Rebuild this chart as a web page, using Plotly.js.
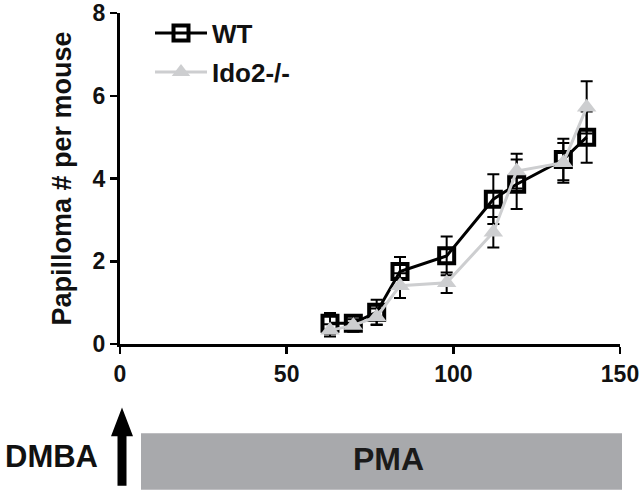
<!DOCTYPE html>
<html>
<head>
<meta charset="utf-8">
<script src="https://cdn.plot.ly/plotly-3.0.1.min.js"></script>
<style>html,body{margin:0;padding:0;background:#fff;}#chart{width:640px;height:492px;}</style>
</head>
<body>
<div id="chart"></div>
<script>
// Days after DMBA
const days = [63, 70, 77, 84, 98, 112, 119, 133, 140];
// WT papilloma per mouse (mean, SEM)
const wtMean = [0.5, 0.5, 0.77, 1.75, 2.13, 3.5, 3.86, 4.46, 5.0];
const wtErr  = [0.25, 0.2, 0.3, 0.35, 0.47, 0.6, 0.6, 0.5, 0.62];
// Ido2-/- papilloma per mouse (mean, SEM)
const koMean = [0.33, 0.45, 0.66, 1.41, 1.48, 2.7, 4.18, 4.38, 5.72];
const koErr  = [0.15, 0.15, 0.2, 0.3, 0.25, 0.37, 0.42, 0.48, 0.63];
const seriesNames = ["WT", "Ido2-/-"];
const xTicks = [0, 50, 100, 150];
const yTicks = [0, 2, 4, 6, 8];

const FONT = "Liberation Sans, Arial, Helvetica, sans-serif";

const traces = [
  {
    x: days, y: wtMean, name: seriesNames[0], type: "scatter", mode: "lines+markers",
    legendgroup: "a",
    line: {color: "#000000", width: 3},
    marker: {symbol: "square-open", size: 15, color: "#000000", line: {width: 4, color: "#000000"}},
    error_y: {type: "data", array: wtErr, visible: true, color: "#000000", thickness: 2, width: 6},
    cliponaxis: false
  },
  {
    x: days, y: koMean, name: seriesNames[1], type: "scatter", mode: "lines+markers",
    legendgroup: "b",
    line: {color: "#cdced0", width: 3},
    marker: {symbol: "triangle-up", size: 17, color: "#cdced0"},
    error_y: {type: "data", array: koErr, visible: true, color: "#000000", thickness: 2, width: 6},
    cliponaxis: false
  }
];

const layout = {
  width: 640, height: 492,
  margin: {l: 120, r: 20, t: 10, b: 148},
  paper_bgcolor: "#ffffff", plot_bgcolor: "#ffffff",
  font: {family: FONT, color: "#111111", weight: 700},
  showlegend: true,
  legend: {
    x: 0.06, xanchor: "left", y: 1.01, yanchor: "top",
    font: {family: FONT, size: 26, color: "#111111", weight: 700},
    bgcolor: "rgba(0,0,0,0)", borderwidth: 0, itemwidth: 52, tracegroupgap: 2
  },
  xaxis: {
    range: [0, 150], tickvals: xTicks, ticktext: xTicks.map(String),
    showgrid: false, zeroline: false, showline: true, linecolor: "#000000", linewidth: 3,
    ticks: "outside", ticklen: 7, tickwidth: 2.5, tickcolor: "#000000",
    tickfont: {family: FONT, size: 23, color: "#111111", weight: 700}
  },
  yaxis: {
    range: [0, 8], tickvals: yTicks, ticktext: yTicks.map(String), ticklabeloverflow: "allow",
    showgrid: false, zeroline: false, showline: true, linecolor: "#000000", linewidth: 3,
    ticks: "outside", ticklen: 7, tickwidth: 2.5, tickcolor: "#000000",
    tickfont: {family: FONT, size: 23, color: "#111111", weight: 700},
    title: {text: "Papilloma # per mouse", font: {family: FONT, size: 27, color: "#111111", weight: 700}, standoff: 14}
  },
  shapes: [
    {type: "rect", xref: "paper", yref: "paper", x0: 0.042, x1: 1.004, y0: -0.44, y1: -0.2695,
     fillcolor: "#a8a9ac", line: {width: 0}},
    {type: "path", xref: "paper", yref: "paper",
     path: "M -0.005,-0.428 L 0.013,-0.428 L 0.013,-0.2784 L 0.026,-0.2784 L 0.004,-0.1916 L -0.018,-0.2784 L -0.005,-0.2784 Z",
     fillcolor: "#000000", line: {width: 0}}
  ],
  annotations: [
    {text: "DMBA", xref: "paper", yref: "paper", x: -0.138, y: -0.341, xanchor: "center", yanchor: "middle", showarrow: false,
     font: {family: FONT, size: 31, color: "#111111", weight: 700}},
    {text: "PMA", xref: "paper", yref: "paper", x: 0.536, y: -0.347, xanchor: "center", yanchor: "middle", showarrow: false,
     font: {family: FONT, size: 32, color: "#1a1a1a", weight: 700}}
  ]
};

Plotly.newPlot("chart", traces, layout, {displayModeBar: false, staticPlot: true});
</script>
</body>
</html>
